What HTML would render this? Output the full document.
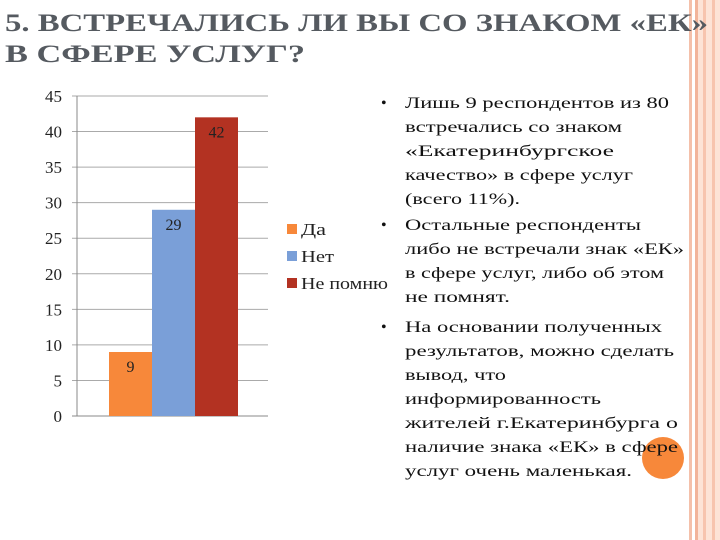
<!DOCTYPE html>
<html><head><meta charset="utf-8"><style>
html,body{margin:0;padding:0;background:#fff;}
svg{display:block;font-family:"Liberation Serif","DejaVu Serif",serif;}
</style></head><body>
<svg width="720" height="540" viewBox="0 0 720 540">
<g>
<rect x="689" y="0" width="3" height="540" fill="#f4c0aa"/>
<rect x="695" y="0" width="3" height="540" fill="#f2b49a"/>
<rect x="698" y="0" width="22" height="540" fill="#fde3d6"/>
<rect x="703" y="0" width="3" height="540" fill="#f7c4ae"/>
<rect x="712" y="0" width="3" height="540" fill="#f7c4ae"/>
</g>
<circle cx="663" cy="458" r="21" fill="#f7883a"/>
<g fill="#555a60" font-weight="bold" font-size="25">
<text x="5" y="31" textLength="703" lengthAdjust="spacingAndGlyphs">5. ВСТРЕЧАЛИСЬ ЛИ  ВЫ СО ЗНАКОМ «ЕК»</text>
<text x="5" y="62" textLength="300" lengthAdjust="spacingAndGlyphs">В  СФЕРЕ  УСЛУГ?</text>
</g>
<g id="chart"></g>
<g font-size="16" fill="#111">
<g>
<text x="381" y="108">•</text>
<text x="405" y="108" textLength="264" lengthAdjust="spacingAndGlyphs">Лишь 9 респондентов из 80</text>
<text x="405" y="132" textLength="217" lengthAdjust="spacingAndGlyphs">встречались со знаком</text>
<text x="405" y="156" textLength="209" lengthAdjust="spacingAndGlyphs">«Екатеринбургское</text>
<text x="405" y="180" textLength="228" lengthAdjust="spacingAndGlyphs">качество» в сфере услуг</text>
<text x="405" y="204" textLength="115" lengthAdjust="spacingAndGlyphs">(всего 11%).</text>
</g>
<g>
<text x="381" y="230">•</text>
<text x="405" y="230" textLength="236" lengthAdjust="spacingAndGlyphs">Остальные респонденты</text>
<text x="405" y="254" textLength="279" lengthAdjust="spacingAndGlyphs">либо не встречали знак «ЕК»</text>
<text x="405" y="278" textLength="259" lengthAdjust="spacingAndGlyphs">в сфере услуг, либо об этом</text>
<text x="405" y="302" textLength="105" lengthAdjust="spacingAndGlyphs">не помнят.</text>
</g>
<g>
<text x="381" y="332">•</text>
<text x="405" y="332" textLength="257" lengthAdjust="spacingAndGlyphs">На основании полученных</text>
<text x="405" y="356" textLength="269" lengthAdjust="spacingAndGlyphs">результатов, можно сделать</text>
<text x="405" y="380" textLength="101" lengthAdjust="spacingAndGlyphs">вывод, что</text>
<text x="405" y="404" textLength="196" lengthAdjust="spacingAndGlyphs">информированность</text>
<text x="405" y="428" textLength="273" lengthAdjust="spacingAndGlyphs">жителей г.Екатеринбурга о</text>
<text x="405" y="452" textLength="273" lengthAdjust="spacingAndGlyphs">наличие знака «ЕК» в сфере</text>
<text x="405" y="476" textLength="227" lengthAdjust="spacingAndGlyphs">услуг очень маленькая.</text>
</g>
</g>
</svg>
<script>
const categories = ["Да", "Нет", "Не помню"];
const values = [9, 29, 42];
const colors = ["#f7883a", "#7a9fd8", "#b33222"];
const yTicks = [0, 5, 10, 15, 20, 25, 30, 35, 40, 45];
const legendWidths = [25, 33, 87];

const NS = "http://www.w3.org/2000/svg";
const g = document.getElementById("chart");
const x0 = 77, x1 = 268, yTop = 96, yBot = 416, yMax = 45;
const barStart = 109, barW = 43;
function y(v){ return yBot - (v / yMax) * (yBot - yTop); }
function bx(i){ return barStart + i * barW; }
function mk(tag, attrs){ const e = document.createElementNS(NS, tag); for (const k in attrs) e.setAttribute(k, attrs[k]); g.appendChild(e); return e; }

yTicks.forEach(t => {
  const l = mk("line", {x1: x0 - 5, x2: x1, y1: y(t), y2: y(t), stroke: t === 0 ? "#888" : "#aaa", "stroke-width": 1});
  
  
  const tx = mk("text", {x: 62, y: y(t) + 6, "text-anchor": "end", "font-size": 17, fill: "#222"});
  tx.textContent = t;
  
  
});
const ax = mk("line", {x1: x0, x2: x0, y1: yTop, y2: yBot, stroke: "#888", "stroke-width": 1});



values.forEach((v, i) => {
  const r = mk("rect", {x: bx(i), y: y(v), width: barW, height: yBot - y(v), fill: colors[i]});
  
  
  const lb = mk("text", {x: bx(i) + barW / 2, y: y(v) + 20, "text-anchor": "middle", "font-size": 16, fill: "#222"});
  lb.textContent = v;
  
  
});

categories.forEach((c, i) => {
  const ly = 229 + i * 27;
  const sq = mk("rect", {x: 287, y: ly - 5, width: 10, height: 10, fill: colors[i]});
  
  
  const t = mk("text", {x: 301, y: ly + 6, "font-size": 17, fill: "#222", textLength: legendWidths[i], lengthAdjust: "spacingAndGlyphs"});
  t.textContent = c;
  
  
});
</script>
</body></html>
